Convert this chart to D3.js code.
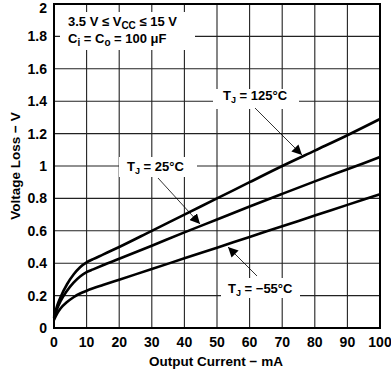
<!DOCTYPE html>
<html>
<head>
<meta charset="utf-8">
<script src="https://cdn.jsdelivr.net/npm/d3@7"></script>
<style>
  body { margin: 0; background: #fff; }
  text { font-family: Arial, "Liberation Sans", sans-serif; font-weight: bold; fill: #000; }
</style>
</head>
<body>
<div id="chart"></div>
<script>
// output current (mA)
var current = [0, 1, 2, 4, 6, 8, 10, 12, 15, 20, 30, 40, 50, 60, 70, 80, 90, 100];
// voltage loss (V) per junction temperature
var loss125 = [0.07, 0.14, 0.19, 0.27, 0.33, 0.375, 0.405, 0.425, 0.453, 0.50, 0.60, 0.70, 0.80, 0.90, 1.00, 1.095, 1.19, 1.29];
var loss25 = [0.06, 0.12, 0.165, 0.23, 0.28, 0.318, 0.345, 0.362, 0.387, 0.427, 0.508, 0.59, 0.67, 0.75, 0.828, 0.905, 0.98, 1.055];
var lossM55 = [0.05, 0.09, 0.12, 0.16, 0.19, 0.213, 0.23, 0.245, 0.265, 0.298, 0.364, 0.43, 0.496, 0.562, 0.628, 0.694, 0.76, 0.826];

var xTicks = [0, 10, 20, 30, 40, 50, 60, 70, 80, 90, 100];
var yTicks = [0, 0.2, 0.4, 0.6, 0.8, 1, 1.2, 1.4, 1.6, 1.8, 2];

var w = 391, h = 374;
var margin = {top: 4, right: 11, bottom: 46, left: 54};

var svg = d3.select("#chart")
            .append("svg")
            .attr("width", w)
            .attr("height", h);

var xScale = d3.scaleLinear().domain([0, 100]).range([margin.left, w - margin.right]);
var yScale = d3.scaleLinear().domain([0, 2]).range([h - margin.bottom, margin.top]);

// grid
svg.append("g")
   .selectAll("line")
   .data(xTicks)
   .enter()
   .append("line")
   .attr("x1", function(d) { return xScale(d); })
   .attr("x2", function(d) { return xScale(d); })
   .attr("y1", yScale(0))
   .attr("y2", yScale(2))
   .attr("stroke", "#222")
   .attr("stroke-width", 1.1);

svg.append("g")
   .selectAll("line")
   .data(yTicks)
   .enter()
   .append("line")
   .attr("x1", xScale(0))
   .attr("x2", xScale(100))
   .attr("y1", function(d) { return yScale(d); })
   .attr("y2", function(d) { return yScale(d); })
   .attr("stroke", "#222")
   .attr("stroke-width", 1.1);

// curves
var line = d3.line()
             .x(function(d) { return xScale(d[0]); })
             .y(function(d) { return yScale(d[1]); })
             .curve(d3.curveMonotoneX);

[loss125, loss25, lossM55].forEach(function(series) {
  svg.append("path")
     .attr("d", line(d3.zip(current, series)))
     .attr("fill", "none")
     .attr("stroke", "#000")
     .attr("stroke-width", 2.6);
});

// frame
svg.append("rect")
   .attr("x", xScale(0))
   .attr("y", yScale(2))
   .attr("width", xScale(100) - xScale(0))
   .attr("height", yScale(0) - yScale(2))
   .attr("fill", "none")
   .attr("stroke", "#000")
   .attr("stroke-width", 2);

// tick labels
svg.append("g")
   .selectAll("text")
   .data(xTicks)
   .enter()
   .append("text")
   .attr("x", function(d) { return xScale(d); })
   .attr("y", yScale(0) + 19)
   .attr("text-anchor", "middle")
   .style("font-size", "14px")
   .text(function(d) { return d; });

// top label pushed down a little so it is not clipped
svg.append("g")
   .selectAll("text")
   .data(yTicks)
   .enter()
   .append("text")
   .attr("x", xScale(0) - 7)
   .attr("y", function(d) { return Math.max(yScale(d) + 5, 13); })
   .attr("text-anchor", "end")
   .style("font-size", "14px")
   .text(function(d) { return d; });

// axis titles
svg.append("text")
   .attr("x", 216)
   .attr("y", 366)
   .attr("text-anchor", "middle")
   .style("font-size", "13.5px")
   .text("Output Current \u2212 mA");

svg.append("text")
   .attr("transform", "translate(20,166) rotate(-90)")
   .attr("text-anchor", "middle")
   .style("font-size", "13.5px")
   .text("Voltage Loss \u2212 V");

// conditions box
svg.append("rect")
   .attr("x", 60).attr("y", 12).attr("width", 135).attr("height", 38)
   .attr("fill", "#fff");

var cond1 = svg.append("text").attr("x", 68).attr("y", 26).style("font-size", "13px");
cond1.append("tspan").text("3.5 V \u2264 V");
cond1.append("tspan").attr("dy", 3).style("font-size", "10px").text("CC");
cond1.append("tspan").attr("dy", -3).text(" \u2264 15 V");

var cond2 = svg.append("text").attr("x", 68).attr("y", 43).style("font-size", "13px");
cond2.append("tspan").text("C");
cond2.append("tspan").attr("dy", 3).style("font-size", "10px").text("i");
cond2.append("tspan").attr("dy", -3).text(" = C");
cond2.append("tspan").attr("dy", 3).style("font-size", "10px").text("o");
cond2.append("tspan").attr("dy", -3).text(" = 100 \u03bcF");

// curve labels with arrows
var labels = [
  {temp: "125", x: 223, y: 100, box: [213, 89, 86, 20], from: [255, 108], to: [302, 155]},
  {temp: "25", x: 127, y: 171, box: [119, 157, 78, 20], from: [158, 178], to: [200, 224]},
  {temp: "\u221255", x: 228, y: 293, box: [221, 278, 79, 20], from: [257, 276], to: [228, 247]}
];

svg.append("defs").append("marker")
   .attr("id", "arrow")
   .attr("viewBox", "0 0 10 10")
   .attr("refX", 10).attr("refY", 5)
   .attr("markerWidth", 10).attr("markerHeight", 10)
   .attr("markerUnits", "userSpaceOnUse")
   .attr("orient", "auto")
   .append("path")
   .attr("d", "M0,0 L10,5 L0,10 Z")
   .attr("fill", "#000");

labels.forEach(function(l) {
  svg.append("rect")
     .attr("x", l.box[0]).attr("y", l.box[1])
     .attr("width", l.box[2]).attr("height", l.box[3])
     .attr("fill", "#fff");
  var t = svg.append("text").attr("x", l.x).attr("y", l.y).style("font-size", "13px");
  t.append("tspan").text("T");
  t.append("tspan").attr("dy", 3).style("font-size", "9px").text("J");
  t.append("tspan").attr("dy", -3).text(" = " + l.temp + "\u00b0C");
  svg.append("line")
     .attr("x1", l.from[0]).attr("y1", l.from[1])
     .attr("x2", l.to[0]).attr("y2", l.to[1])
     .attr("stroke", "#000")
     .attr("stroke-width", 0.8)
     .attr("marker-end", "url(#arrow)");
});
</script>
</body>
</html>
